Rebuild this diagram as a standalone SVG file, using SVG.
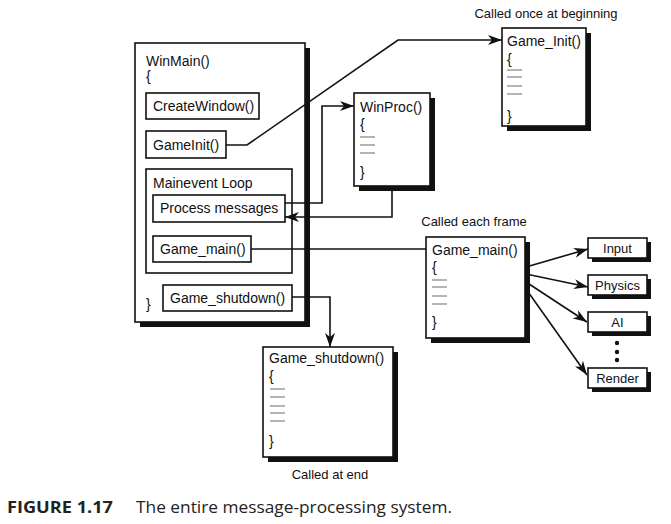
<svg xmlns="http://www.w3.org/2000/svg" width="671" height="524" viewBox="0 0 671 524">
<defs>
<style>
.t{font-family:"Liberation Sans",Arial,sans-serif;font-size:14px;fill:#111}
.s{font-family:"Liberation Sans",Arial,sans-serif;font-size:13px;fill:#111}
.b{fill:#fff;stroke:#111;stroke-width:1.6}
.sh{fill:#111}
.c{fill:none;stroke:#111;stroke-width:1.6}
.d{stroke:#777;stroke-width:1.1}
.cap{font-family:"Open Sans","Noto Sans",sans-serif;font-size:16.5px;fill:#222}
</style>
<marker id="ah" viewBox="0 0 14 10" refX="14" refY="5" markerWidth="14" markerHeight="10" markerUnits="userSpaceOnUse" orient="auto">
<path d="M0,0 L14,5 L0,10 L4,5 Z" fill="#111"/>
</marker>
</defs>
<rect width="671" height="524" fill="#fff"/>

<g id="winmain">
<rect class="sh" x="140" y="48" width="170" height="279"/>
<rect class="b" x="135" y="43" width="170" height="279"/>
<text class="t" x="146" y="66">WinMain()</text>
<text class="t" x="146" y="81">{</text>
<text class="t" x="146" y="309">}</text>
</g>
<g id="createwindow">
<rect class="b" x="146" y="93" width="113" height="26"/>
<text class="t" x="153" y="111">CreateWindow()</text>
</g>
<g id="gameinit">
<rect class="b" x="146" y="131" width="80" height="27"/>
<text class="t" x="153" y="150">GameInit()</text>
</g>
<g id="mainloop">
<rect class="b" x="146" y="169" width="146" height="104"/>
<text class="t" x="153" y="188">Mainevent Loop</text>
</g>
<g id="processmessages">
<rect class="b" x="153" y="195" width="132" height="27"/>
<text class="t" x="160" y="213">Process messages</text>
</g>
<g id="gamemain-call">
<rect class="b" x="153" y="236" width="98" height="26"/>
<text class="t" x="160" y="254">Game_main()</text>
</g>
<g id="gameshutdown-call">
<rect class="b" x="163" y="285" width="129" height="26"/>
<text class="t" x="170" y="303">Game_shutdown()</text>
</g>

<g id="winproc">
<rect class="sh" x="359" y="98" width="76" height="93"/>
<rect class="b" x="354" y="93" width="76" height="93"/>
<text class="t" x="360" y="112">WinProc()</text>
<text class="t" x="360" y="129">{</text>
<line class="d" x1="360" y1="137" x2="375" y2="137"/>
<line class="d" x1="360" y1="145" x2="375" y2="145"/>
<line class="d" x1="360" y1="153" x2="375" y2="153"/>
<text class="t" x="360" y="177">}</text>
</g>

<g id="game-init">
<text class="s" x="546" y="18" text-anchor="middle">Called once at beginning</text>
<rect class="sh" x="507" y="33" width="84" height="98"/>
<rect class="b" x="502" y="28" width="84" height="98"/>
<text class="t" x="507" y="46">Game_Init()</text>
<text class="t" x="507" y="64">{</text>
<line class="d" x1="507" y1="70" x2="522" y2="70"/>
<line class="d" x1="507" y1="77" x2="522" y2="77"/>
<line class="d" x1="507" y1="86" x2="522" y2="86"/>
<line class="d" x1="507" y1="94" x2="522" y2="94"/>
<text class="t" x="507" y="121">}</text>
</g>

<g id="game-main">
<text class="s" x="474" y="226" text-anchor="middle">Called each frame</text>
<rect class="sh" x="431" y="242" width="99" height="101"/>
<rect class="b" x="426" y="237" width="99" height="101"/>
<text class="t" x="432" y="255">Game_main()</text>
<text class="t" x="432" y="272">{</text>
<line class="d" x1="432" y1="280" x2="447" y2="280"/>
<line class="d" x1="432" y1="287" x2="447" y2="287"/>
<line class="d" x1="432" y1="296" x2="447" y2="296"/>
<line class="d" x1="432" y1="304" x2="447" y2="304"/>
<text class="t" x="432" y="327">}</text>
</g>

<g id="input">
<rect class="sh" x="592" y="242" width="59" height="20"/>
<rect class="b" x="588" y="238" width="59" height="20"/>
<text class="s" x="617.5" y="253" text-anchor="middle">Input</text>
</g>
<g id="physics">
<rect class="sh" x="592" y="279" width="59" height="20"/>
<rect class="b" x="588" y="275" width="59" height="20"/>
<text class="s" x="617.5" y="290" text-anchor="middle">Physics</text>
</g>
<g id="ai">
<rect class="sh" x="592" y="316" width="59" height="20"/>
<rect class="b" x="588" y="312" width="59" height="20"/>
<text class="s" x="617.5" y="327" text-anchor="middle">AI</text>
</g>
<g id="dots">
<circle cx="617" cy="343" r="2.2" fill="#111"/>
<circle cx="617" cy="352" r="2.2" fill="#111"/>
<circle cx="617" cy="360" r="2.2" fill="#111"/>
</g>
<g id="render">
<rect class="sh" x="592" y="372" width="59" height="20"/>
<rect class="b" x="588" y="368" width="59" height="20"/>
<text class="s" x="617.5" y="383" text-anchor="middle">Render</text>
</g>

<g id="game-shutdown">
<rect class="sh" x="268" y="352" width="130" height="110"/>
<rect class="b" x="263" y="347" width="130" height="110"/>
<text class="t" x="269" y="363">Game_shutdown()</text>
<text class="t" x="269" y="381">{</text>
<line class="d" x1="270" y1="389" x2="285" y2="389"/>
<line class="d" x1="270" y1="397" x2="285" y2="397"/>
<line class="d" x1="270" y1="406" x2="285" y2="406"/>
<line class="d" x1="270" y1="413" x2="285" y2="413"/>
<line class="d" x1="270" y1="421" x2="285" y2="421"/>
<text class="t" x="269" y="446">}</text>
<text class="s" x="330" y="479" text-anchor="middle">Called at end</text>
</g>

<g id="connectors">
<polyline class="c" points="226,145 247,145 398,40 502,40" marker-end="url(#ah)"/>
<polyline class="c" points="285,203 322,203 322,106 354,106" marker-end="url(#ah)"/>
<polyline class="c" points="392,186 392,217 285,217" marker-end="url(#ah)"/>
<line class="c" x1="251" y1="249" x2="426" y2="249"/>
<polyline class="c" points="292,297 330,297 330,347" marker-end="url(#ah)"/>
<line class="c" x1="526" y1="267" x2="588" y2="249" marker-end="url(#ah)"/>
<line class="c" x1="526" y1="274" x2="588" y2="287" marker-end="url(#ah)"/>
<line class="c" x1="526" y1="282" x2="587" y2="322" marker-end="url(#ah)"/>
<line class="c" x1="526" y1="289" x2="587" y2="375" marker-end="url(#ah)"/>
</g>

<g id="caption">
<text class="cap" x="7" y="513" font-weight="bold" textLength="106" lengthAdjust="spacingAndGlyphs">FIGURE 1.17</text>
<text class="cap" x="136" y="513" textLength="316" lengthAdjust="spacingAndGlyphs">The entire message-processing system.</text>
</g>
</svg>
